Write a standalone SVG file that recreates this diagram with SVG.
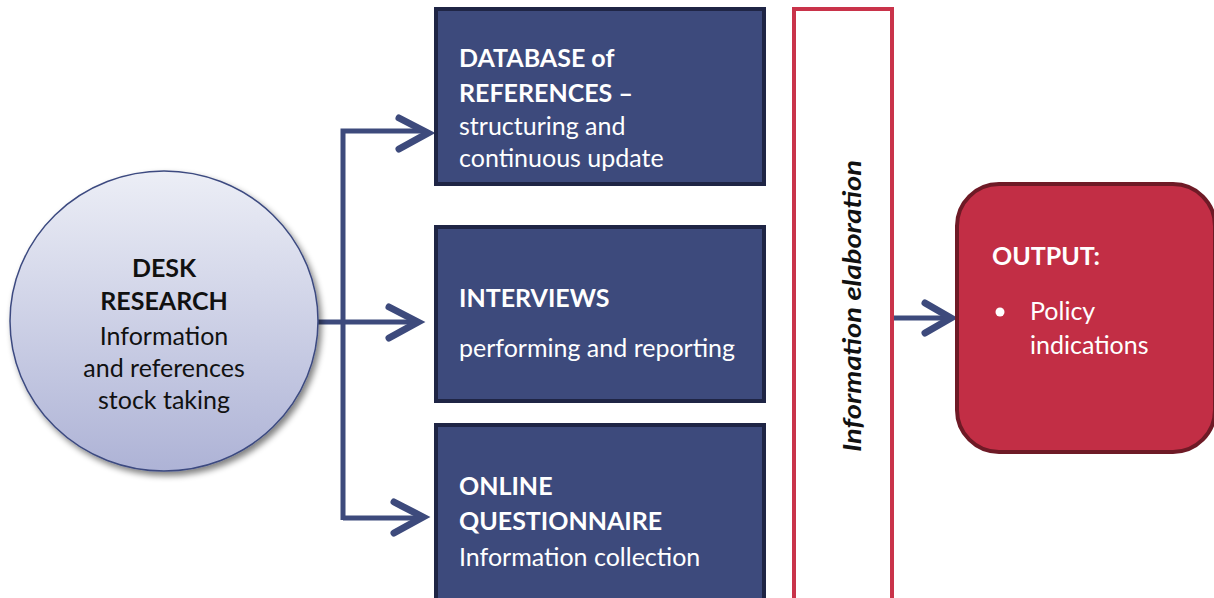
<svg xmlns="http://www.w3.org/2000/svg" width="1214" height="598" viewBox="0 0 1214 598">
<defs>
<linearGradient id="cg" x1="0" y1="0" x2="0" y2="1">
<stop offset="0" stop-color="#eceef6"/>
<stop offset="1" stop-color="#aeb3d6"/>
</linearGradient>
<filter id="sh" x="-10%" y="-10%" width="130%" height="130%">
<feGaussianBlur in="SourceAlpha" stdDeviation="3"/>
<feOffset dx="3" dy="4" result="b"/>
<feComponentTransfer><feFuncA type="linear" slope="0.5"/></feComponentTransfer>
<feMerge><feMergeNode/><feMergeNode in="SourceGraphic"/></feMerge>
</filter>
</defs>
<style>
text{font-family:Lato,"Liberation Sans",sans-serif;font-size:25px}
.w{fill:#ffffff}
.k{fill:#111111}
.b{font-weight:bold}
.box{fill:#3d4a7c;stroke:#1f2545;stroke-width:4}
.ln{fill:none;stroke:#3d4a7c;stroke-width:5}
.ah{fill:none;stroke:#3d4a7c;stroke-width:7;stroke-linecap:round;stroke-linejoin:miter}
</style>
<rect width="1214" height="598" fill="#ffffff"/>

<g id="connectors">
<path class="ln" d="M318 322 H418"/>
<path class="ln" d="M343 520 V131 H426"/>
<path class="ln" d="M343 518 H422"/>
<path class="ah" d="M399 118 L428 133 L399 149"/>
<path class="ah" d="M389 307 L418 322 L389 338"/>
<path class="ah" d="M394 502 L423 517 L394 533"/>
<path class="ln" d="M893 318 H948"/>
<path class="ah" d="M925 303 L951 318 L925 333"/>
</g>

<g id="desk-research">
<ellipse cx="164" cy="321" rx="154" ry="150" fill="url(#cg)" stroke="#3c4a80" stroke-width="1.5" filter="url(#sh)"/>
<text class="k b" x="164" y="277" text-anchor="middle">DESK</text>
<text class="k b" x="164" y="310" text-anchor="middle">RESEARCH</text>
<text class="k" x="164" y="345" text-anchor="middle">Information</text>
<text class="k" x="164" y="377" text-anchor="middle">and references</text>
<text class="k" x="164" y="409" text-anchor="middle">stock taking</text>
</g>

<g id="database">
<rect class="box" x="436" y="9" width="328" height="175"/>
<text class="w b" x="459" y="67">DATABASE of</text>
<text class="w b" x="459" y="102">REFERENCES –</text>
<text class="w" x="459" y="135">structuring and</text>
<text class="w" x="459" y="167">continuous update</text>
</g>

<g id="interviews">
<rect class="box" x="436" y="227" width="328" height="174"/>
<text class="w b" x="459" y="307">INTERVIEWS</text>
<text class="w" x="459" y="357">performing and reporting</text>
</g>

<g id="questionnaire">
<rect class="box" x="436" y="425" width="328" height="180"/>
<text class="w b" x="459" y="495">ONLINE</text>
<text class="w b" x="459" y="530">QUESTIONNAIRE</text>
<text class="w" x="459" y="566">Information collection</text>
</g>

<g id="elaboration">
<rect x="794" y="9" width="98" height="600" fill="#ffffff" stroke="#c9334a" stroke-width="4"/>
<text class="k" x="-146" y="0" font-style="italic" font-weight="bold" font-size="26" textLength="292" lengthAdjust="spacingAndGlyphs" transform="translate(861 306) rotate(-90)">Information elaboration</text>
</g>

<g id="output">
<rect x="957" y="184" width="258" height="268" rx="42" fill="#c22e45" stroke="#6e1a26" stroke-width="4"/>
<text class="w b" x="992" y="265">OUTPUT:</text>
<circle cx="1000" cy="312" r="4.5" fill="#ffffff"/>
<text class="w" x="1030" y="320">Policy</text>
<text class="w" x="1030" y="354">indications</text>
</g>
</svg>
